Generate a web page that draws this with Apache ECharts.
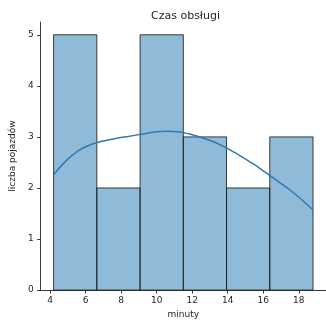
<!DOCTYPE html>
<html>
<head>
<meta charset="utf-8">
<script src="https://cdn.jsdelivr.net/npm/echarts@6/dist/echarts.min.js"></script>
<style>
  html, body { margin: 0; padding: 0; background: #fff; }
  #chart { width: 326px; height: 324px; }
</style>
</head>
<body>
<div id="chart"></div>
<script>
// Histogram bin edges (minutes) and counts per bin
var binEdges = [4.2, 6.633, 9.067, 11.5, 13.933, 16.367, 18.8];
var binCounts = [5, 2, 5, 3, 2, 3];

// Density estimate curve, scaled to counts
var kdeX = [4.2, 4.9, 5.6, 6.3, 7.0, 7.7, 8.4, 9.1, 9.8, 10.5, 11.2, 11.9, 12.6, 13.3, 14.0, 14.7, 15.4, 16.1, 16.8, 17.5, 18.2, 18.8];
var kdeY = [2.26, 2.53, 2.73, 2.85, 2.92, 2.97, 3.01, 3.05, 3.09, 3.11, 3.10, 3.05, 2.98, 2.89, 2.77, 2.63, 2.48, 2.31, 2.14, 1.96, 1.76, 1.57];

// Tick labels
var xTicks = [4, 6, 8, 10, 12, 14, 16, 18];
var yTicks = [0, 1, 2, 3, 4, 5];

var bins = binCounts.map(function (c, i) { return [binEdges[i], binEdges[i + 1], c]; });
var kde = kdeX.map(function (x, i) { return [x, kdeY[i]]; });

var span = binEdges[binEdges.length - 1] - binEdges[0];
var xMin = binEdges[0] - span * 0.05;
var xMax = binEdges[binEdges.length - 1] + span * 0.05;
var yMax = Math.max.apply(null, binCounts) * 1.05;

var textColor = '#262626';
var axisColor = '#3a3a3a';
var font = 'DejaVu Sans';

var chart = echarts.init(document.getElementById('chart'), null, { renderer: 'canvas' });
chart.setOption({
  animation: false,
  backgroundColor: '#ffffff',
  title: {
    text: 'Czas obsługi',
    left: 146, top: 6,
    textStyle: { fontFamily: font, fontSize: 11, fontWeight: 'normal', color: textColor }
  },
  grid: { left: 37, right: 0, top: 22, bottom: 29 },
  xAxis: {
    type: 'value', min: xMin, max: xMax,
    name: 'minuty', nameLocation: 'middle', nameGap: 18,
    nameTextStyle: { fontFamily: font, fontSize: 9, color: textColor },
    splitLine: { show: false },
    axisLine: { show: true, lineStyle: { color: axisColor, width: 1 } },
    axisTick: { show: true, customValues: xTicks, length: 3.5, lineStyle: { color: axisColor } },
    axisLabel: { customValues: xTicks, fontFamily: font, fontSize: 9, color: textColor, margin: 6 }
  },
  yAxis: {
    type: 'value', min: 0, max: yMax,
    name: 'liczba pojazdów', nameLocation: 'middle', nameGap: 19, nameRotate: 90,
    nameTextStyle: { fontFamily: font, fontSize: 9, color: textColor },
    splitLine: { show: false },
    axisLine: { show: true, lineStyle: { color: axisColor, width: 1 } },
    axisTick: { show: true, customValues: yTicks, length: 3.5, lineStyle: { color: axisColor } },
    axisLabel: { customValues: yTicks, fontFamily: font, fontSize: 9, color: textColor, margin: 7 }
  },
  series: [
    {
      type: 'custom',
      data: bins,
      encode: { x: [0, 1], y: 2 },
      renderItem: function (params, api) {
        var p0 = api.coord([api.value(0), 0]);
        var p1 = api.coord([api.value(1), api.value(2)]);
        return {
          type: 'rect',
          shape: { x: p0[0], y: p1[1], width: p1[0] - p0[0], height: p0[1] - p1[1] },
          style: { fill: 'rgba(31,119,180,0.5)', stroke: 'rgba(30,30,30,0.85)', lineWidth: 1 }
        };
      },
      z: 2
    },
    {
      type: 'line',
      data: kde,
      smooth: 0.3,
      showSymbol: false,
      lineStyle: { color: '#2c7bb6', width: 1.5 },
      z: 3
    }
  ]
});
</script>
</body>
</html>
